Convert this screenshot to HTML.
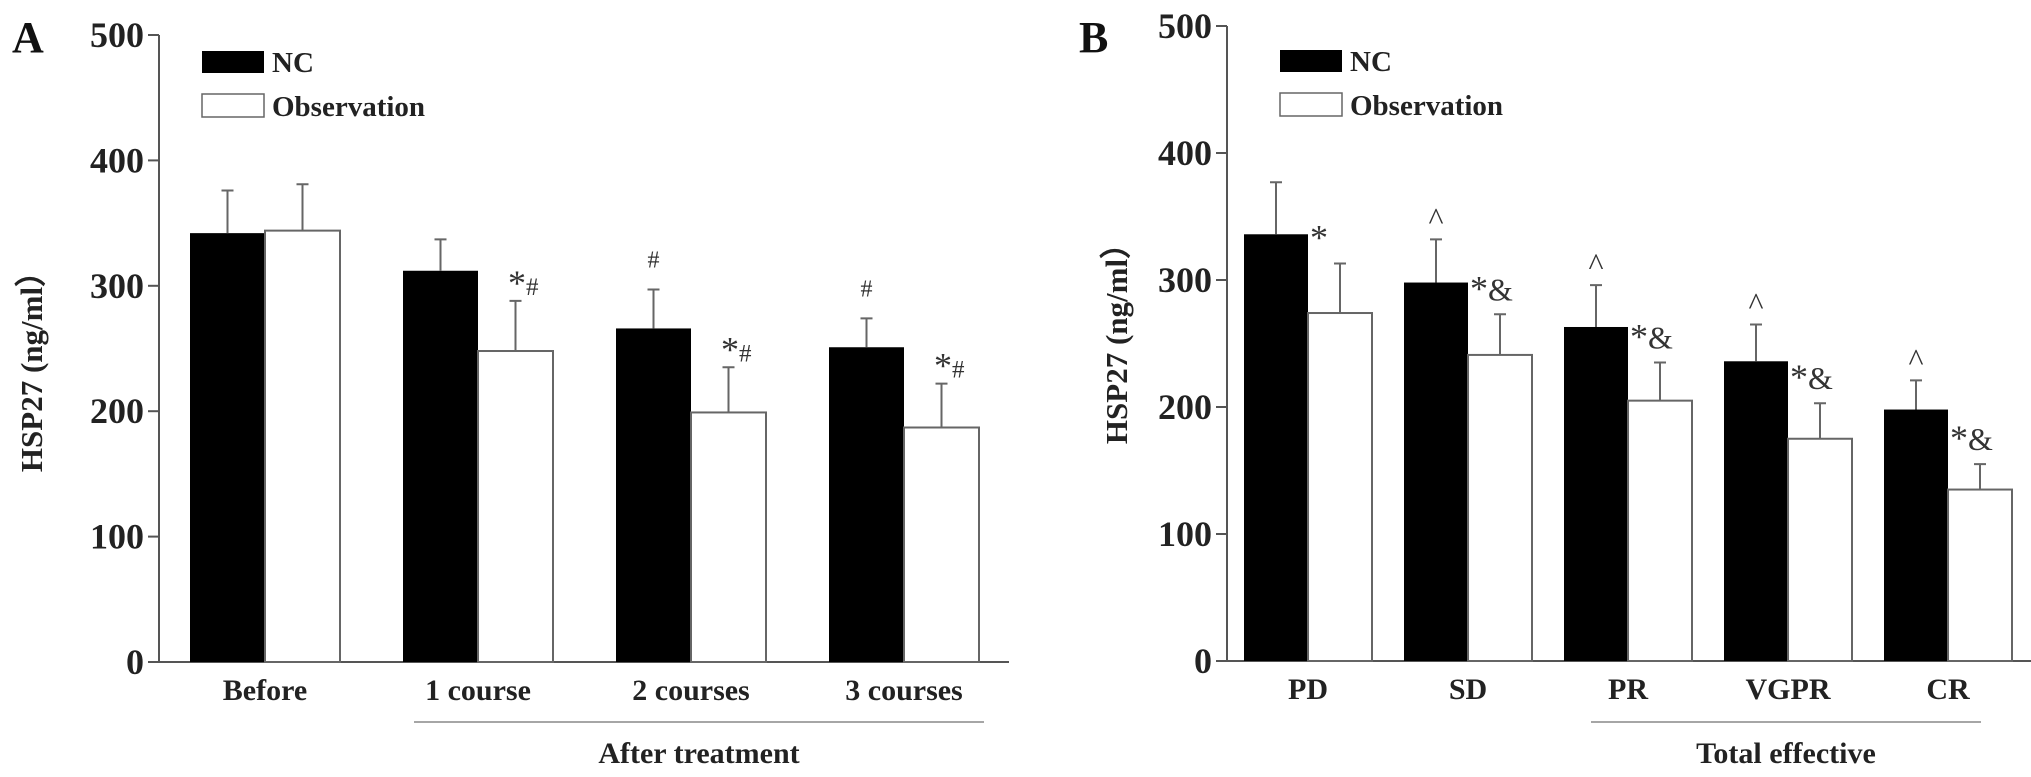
<!DOCTYPE html>
<html><head><meta charset="utf-8"><style>
html,body{margin:0;padding:0;background:#fff;}
svg{display:block;font-family:"Liberation Serif","DejaVu Serif",serif;}
</style></head><body>
<svg id="fig" width="2031" height="777" viewBox="0 0 2031 777"></svg>
<script>
// Panel A data
const catsA = ["Before","1 course","2 courses","3 courses"];
const ncA = [342, 312, 266, 251];
const ncErrA = [376, 337, 297, 274];
const obsA = [344, 248, 199, 187];
const obsErrA = [381, 288, 235, 222];
const ncMarkA = ["", "", "#", "#"];
const obsMarkA = ["", "*#", "*#", "*#"];
// Panel B data
const catsB = ["PD","SD","PR","VGPR","CR"];
const ncB = [336, 298, 263, 236, 198];
const ncErrB = [377, 332, 296, 265, 221];
const obsB = [274, 241, 205, 175, 135];
const obsErrB = [313, 273, 235, 203, 155];
const ncMarkB = ["", "^", "^", "^", "^"];
const obsMarkB = ["*", "*&", "*&", "*&", "*&"];
const yTicks = [0,100,200,300,400,500];

const NS="http://www.w3.org/2000/svg";
const svg=document.getElementById('fig');
function mk(tag,attrs,parent){const e=document.createElementNS(NS,tag);for(const k in attrs)e.setAttribute(k,attrs[k]);(parent||svg).appendChild(e);return e;}

function panel(o){
  const g=mk('g',{});
  
  
  const y=v=>o.y0-(o.y0-o.y500)*v/500;
  const ya=mk('line',{x1:o.ax,y1:o.y500,x2:o.ax,y2:o.y0,stroke:'#555','stroke-width':2},g);
  
  
  const xa=mk('line',{x1:o.ax,y1:o.y0,x2:o.axEnd,y2:o.y0,stroke:'#555','stroke-width':2},g);
  
  
  yTicks.forEach(t=>{
    mk('line',{x1:o.ax-11,y1:y(t),x2:o.ax,y2:y(t),stroke:'#555','stroke-width':2},g);
    const tx=mk('text',{x:o.ax-15,y:y(t)+12,'text-anchor':'end','font-size':36,'font-weight':'bold',fill:'#222'},g);
    tx.textContent=t;
    
    
  });
  const bw=o.bw;
  o.cats.forEach((c,i)=>{
    const xs=o.x0+i*o.step;
    const b1=mk('rect',{x:xs,y:y(o.nc[i]),width:bw,height:o.y0-y(o.nc[i]),fill:'#000'},g);
    
    
    const b2=mk('rect',{x:xs+bw,y:y(o.obs[i]),width:bw,height:o.y0-y(o.obs[i]),fill:'#fff',stroke:'#666','stroke-width':2},g);
    
    
    [[xs+bw/2,o.nc[i],o.ncErr[i]],[xs+1.5*bw,o.obs[i],o.obsErr[i]]].forEach(e=>{
      const p=mk('path',{d:`M${e[0]},${y(e[1])}V${y(e[2])}M${e[0]-6},${y(e[2])}H${e[0]+6}`,stroke:'#666','stroke-width':2,fill:'none'},g);
      
      
    });
    if(o.ncMark[i]){
      const t=mk('text',{x:xs+bw/2,y:y(o.ncErr[i])-o.ncOff,'text-anchor':'middle','font-size':o.ncFs,fill:'#333'},g);
      t.textContent=o.ncMark[i];
      
      
    }
    if(o.obsMark[i]){
      const t=mk('text',{x:xs+bw+o.obsDx,y:y(o.obsErr[i])-o.obsOff,fill:'#333'},g);
      
      
      for(const ch of o.obsMark[i]){
        const s=mk('tspan',{'font-size':ch==='*'?36:(ch==='#'?25:32),dy:ch==='*'?6:0},t);
        s.textContent=ch;
      }
    }
    const cl=mk('text',{x:xs+bw,y:o.y0+38,'text-anchor':'middle','font-size':30,'font-weight':'bold',fill:'#222'},g);
    cl.textContent=c;
    
    
  });
  const gl=mk('line',{x1:o.gx1,y1:722,x2:o.gx2,y2:722,stroke:'#888','stroke-width':1.5},g);
  
  
  const gt=mk('text',{x:(o.gx1+o.gx2)/2,y:763,'text-anchor':'middle','font-size':30,'font-weight':'bold',fill:'#222'},g);
  gt.textContent=o.group;
  
  
  const pl=mk('text',{x:o.lx,y:o.ly,'font-size':44,'font-weight':'bold',fill:'#111'},g);
  pl.textContent=o.letter;
  
  
  const yt=mk('text',{x:0,y:0,transform:`translate(${o.tx},${o.ty}) rotate(-90)`,'text-anchor':'middle','font-size':31,'font-weight':'bold',fill:'#222'},g);
  yt.textContent='HSP27 (ng/ml\uFF09';
  
  
  const l1=mk('rect',{x:o.legx,y:o.legy,width:62,height:22,fill:'#000'},g);
  
  
  const t1=mk('text',{x:o.legx+70,y:o.legy+21,'font-size':29,'font-weight':'bold',fill:'#222'},g);
  t1.textContent='NC';
  
  
  const l2=mk('rect',{x:o.legx,y:o.legy+43,width:62,height:23,fill:'#fff',stroke:'#666','stroke-width':1.5},g);
  
  
  const t2=mk('text',{x:o.legx+70,y:o.legy+65,'font-size':29,'font-weight':'bold',fill:'#222'},g);
  t2.textContent='Observation';
  
  
}

panel({name:'panel-a',letter:'A',lx:12,ly:52,cats:catsA,nc:ncA,ncErr:ncErrA,obs:obsA,obsErr:obsErrA,ncMark:ncMarkA,obsMark:obsMarkA,
  ax:159,axEnd:1009,y0:662,y500:35,x0:190,step:213,bw:75,gx1:414,gx2:984,group:'After treatment',
  ncOff:22,ncFs:24,obsDx:30,obsOff:12,tx:42,ty:364,legx:202,legy:51});
panel({name:'panel-b',letter:'B',lx:1079,ly:52,cats:catsB,nc:ncB,ncErr:ncErrB,obs:obsB,obsErr:obsErrB,ncMark:ncMarkB,obsMark:obsMarkB,
  ax:1227,axEnd:2031,y0:661,y500:26,x0:1244,step:160,bw:64,gx1:1591,gx2:1981,group:'Total effective',
  ncOff:10,ncFs:32,obsDx:2,obsOff:20,tx:1127,ty:336,legx:1280,legy:50});
</script>
</body></html>
